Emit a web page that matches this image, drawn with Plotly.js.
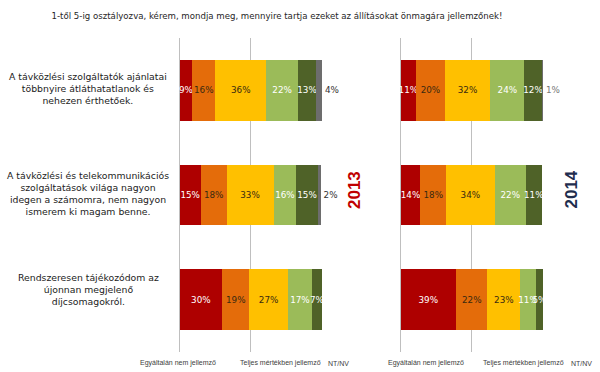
<!DOCTYPE html>
<html>
<head>
<meta charset="utf-8">
<script src="https://cdn.plot.ly/plotly-3.0.1.min.js"></script>
<style>html,body{margin:0;padding:0;background:#fff;}#chart{width:600px;height:372px;}</style>
</head>
<body>
<div id="chart"></div>
<script>
const categories = [
  "A távközlési szolgáltatók ajánlatai<br>többnyire átláthatatlanok és<br>nehezen érthetőek.",
  "A távközlési és telekommunikációs<br>szolgáltatások világa nagyon<br>idegen a számomra, nem nagyon<br>ismerem ki magam benne.",
  "Rendszeresen tájékozódom az<br>újonnan megjelenő<br>díjcsomagokról."
];
const seriesNames = ["1", "2", "3", "4", "5", "NT/NV"];
const colors = ["#AE0000", "#E46C0A", "#FFC000", "#9BBB59", "#4F6228", "#6D6D6D"];
const textColors = ["#FFFFFF", "#3A2A10", "#3A2A10", "#FFFFFF", "#FFFFFF", "#333333"];
// values per series, rows in category order
const values2013 = [
  [9, 15, 30],
  [16, 18, 19],
  [36, 33, 27],
  [22, 16, 17],
  [13, 15, 7],
  [4, 2, 0]
];
const values2014 = [
  [11, 14, 39],
  [20, 18, 22],
  [32, 34, 23],
  [24, 22, 11],
  [12, 11, 5],
  [1, 0, 0]
];
const years = ["2013", "2014"];
const scaleLabels = ["Egyáltalán nem jellemző", "Teljes mértékben jellemző", "NT/NV"];
const title = "1-től 5-ig osztályozva, kérem, mondja meg, mennyire tartja ezeket az állításokat önmagára jellemzőnek!";

const labelFont = "DejaVu Sans, Verdana, sans-serif";
const traces = [];
function addPanel(vals, xa) {
  vals.forEach((arr, i) => {
    const last = i === vals.length - 1;
    traces.push({
      type: "bar",
      orientation: "h",
      x: arr,
      y: categories,
      xaxis: xa,
      yaxis: "y",
      name: seriesNames[i],
      marker: {color: colors[i], line: {width: 0}},
      text: arr.map(v => v > 0 ? v + "%" : ""),
      textposition: last ? "outside" : "inside",
      insidetextanchor: "middle",
      textangle: 0,
      constraintext: "none",
      cliponaxis: false,
      textfont: {family: labelFont, size: 8.8, color: last && xa === "x2" ? "#777777" : textColors[i]},
      hoverinfo: "none",
      showlegend: false
    });
  });
}
addPanel(values2013, "x");
addPanel(values2014, "x2");

const axisCommon = {
  range: [0, 100],
  dtick: 50,
  tick0: 0,
  showgrid: true,
  gridcolor: "#BFBFBF",
  gridwidth: 1,
  zeroline: true,
  zerolinecolor: "#BFBFBF",
  zerolinewidth: 1,
  showticklabels: false,
  showline: false,
  fixedrange: true
};

const annotations = [];
categories.forEach((c, i) => {
  annotations.push({
    xref: "paper", yref: "y", x: 88 / 600, y: c, yshift: i === 2 ? 10 : 2,
    text: c, showarrow: false, align: "center", xanchor: "center",
    font: {family: labelFont, size: 9.3, color: "#222222"}
  });
});
const yearPos = [[354 / 600, "#C00000"], [582 / 600, "#1F2D4E"]];
years.forEach((yr, i) => {
  annotations.push({
    xref: "paper", yref: "paper", x: yearPos[i][0], y: (372 - 190 - 20) / 314,
    text: "<b>" + yr + "</b>", textangle: -90, showarrow: false,
    font: {family: "Liberation Sans, Arial, sans-serif", size: 17, color: yearPos[i][1]}
  });
});
const bottomX = [[178, 280, 338], [426, 523, 581]];
bottomX.forEach(row => {
  row.forEach((px, j) => {
    annotations.push({
      xref: "paper", yref: "paper", x: px / 600, y: (372 - 363 - 20) / 314,
      text: scaleLabels[j], showarrow: false, xanchor: "center", yanchor: "middle",
      font: {family: "Liberation Sans, Arial, sans-serif", size: 7, color: "#404040"}
    });
  });
});

const layout = {
  width: 600, height: 372,
  margin: {l: 0, r: 0, t: 38, b: 20, pad: 0},
  paper_bgcolor: "#FFFFFF",
  plot_bgcolor: "rgba(0,0,0,0)",
  barmode: "stack",
  bargap: 0.42,
  showlegend: false,
  title: {
    text: title, x: 277 / 600, xanchor: "center", y: 1 - 16 / 372, yanchor: "middle",
    font: {family: labelFont, size: 8.6, color: "#262626"}
  },
  xaxis: Object.assign({domain: [179.5 / 600, 322 / 600], anchor: "y"}, axisCommon),
  xaxis2: Object.assign({domain: [400.5 / 600, 543 / 600], anchor: "y"}, axisCommon),
  yaxis: {autorange: "reversed", showticklabels: false, showgrid: false, zeroline: false, fixedrange: true, type: "category"},
  annotations: annotations
};

Plotly.newPlot("chart", traces, layout, {displayModeBar: false, staticPlot: true});
</script>
</body>
</html>
